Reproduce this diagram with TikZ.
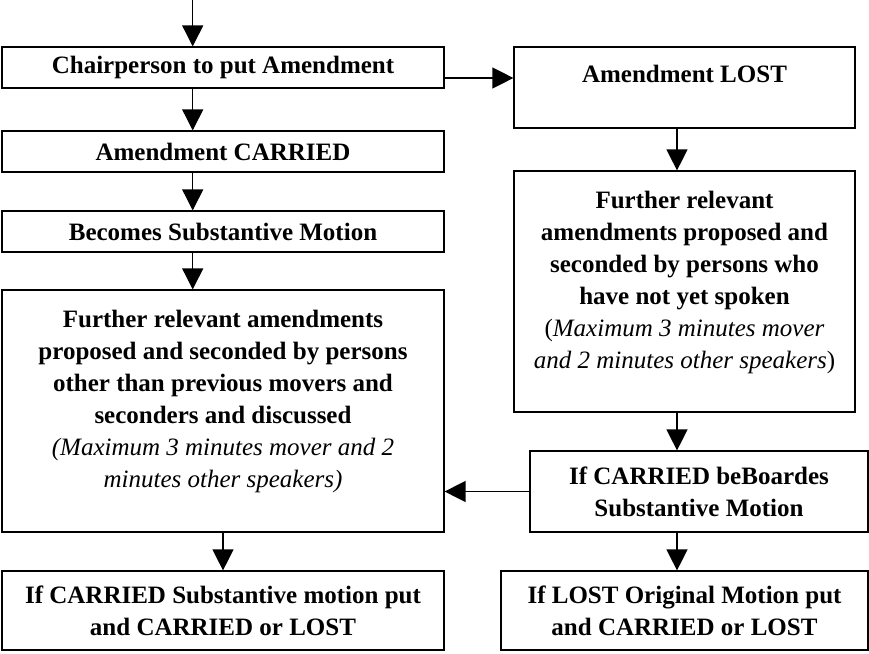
\documentclass[tikz,border=0pt]{standalone}
\usepackage{fontspec}
\setmainfont{Liberation Serif}
\usetikzlibrary{arrows.meta}
\begin{document}
\begin{tikzpicture}[x=1pt,y=-1pt,
  box/.style={draw,line width=1.2pt,inner sep=0pt,align=center,
    font=\fontsize{25}{32}\selectfont\bfseries},
  arr/.style={line width=1.3pt,-{Triangle[length=21pt,width=21pt]}}]
\useasboundingbox (0,0) rectangle (869,653);
\node[box,minimum width=442pt,minimum height=41pt] (b1) at (223,67.5) {Chairperson to put Amendment};
\node[box,minimum width=442pt,minimum height=41pt] (b2) at (223,151.5) {Amendment CARRIED};
\node[box,minimum width=442pt,minimum height=41pt] (b3) at (223,231.5) {Becomes Substantive Motion};
\node[box,minimum width=442pt,minimum height=242pt] (b4) at (223,411) {Further relevant amendments\\proposed and seconded by persons\\other than previous movers and\\seconders and discussed\\\mdseries\itshape (Maximum 3 minutes mover and 2\\\mdseries\itshape minutes other speakers)\\[-8pt]\mbox{}};
\node[box,minimum width=442pt,minimum height=79pt] (b5) at (223,610.5) {If CARRIED Substantive motion put\\and CARRIED or LOST};
\node[box,minimum width=341pt,minimum height=81pt] (lost) at (684.5,87.5) {Amendment LOST\\[-5pt]\mbox{}};
\node[box,minimum width=341pt,minimum height=241pt] (r2) at (684.5,291.5) {Further relevant\\amendments proposed and\\seconded by persons who\\have not yet spoken\\\mdseries(\textit{Maximum 3 minutes mover}\\\mdseries\textit{and 2 minutes other speakers})\\[-8pt]\mbox{}};
\node[box,minimum width=338pt,minimum height=81pt] (r3) at (699,491.5) {If CARRIED beBoardes\\Substantive Motion};
\node[box,minimum width=367pt,minimum height=79pt] (r4) at (684.5,610.5) {If LOST Original Motion put\\and CARRIED or LOST};
\coordinate (top) at (192.7,0);
\coordinate (rx) at (677,0);
\draw[arr] (top) -- (top |- b1.north);
\draw[arr] (top |- b1.south) -- (top |- b2.north);
\draw[arr] (top |- b2.south) -- (top |- b3.north);
\draw[arr] (top |- b3.south) -- (top |- b4.north);
\draw[arr] (b4.south) -- (b5.north);
\draw[arr] ([yshift=-10.5pt]b1.east) -- ([yshift=-10.5pt]b1.east -| lost.west);
\draw[arr] (rx |- lost.south) -- (rx |- r2.north);
\draw[arr] (rx |- r2.south) -- (rx |- r3.north);
\draw[arr] (rx |- r3.south) -- (rx |- r4.north);
\draw[arr] (r3.west) -- (r3.west -| b4.east);
\end{tikzpicture}
\end{document}
